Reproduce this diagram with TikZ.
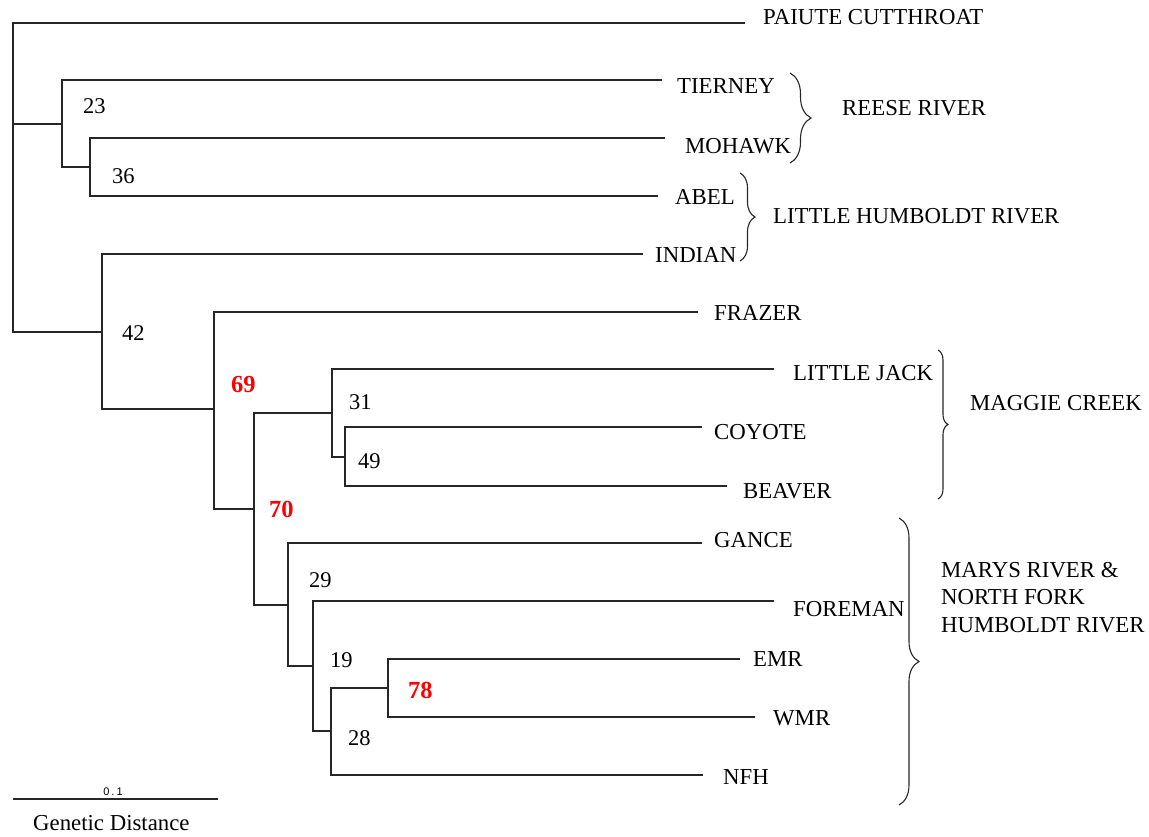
\documentclass[tikz,border=0pt]{standalone}
\usepackage{fontspec}
\setmainfont{Liberation Serif}
\newfontfamily\scalefont{Liberation Sans}
\usetikzlibrary{decorations.pathreplacing}
\begin{document}
\begin{tikzpicture}[x=1pt,y=-1pt,
  branch/.style={line width=1.5pt, draw=black!85},
  leaf/.style={anchor=base west, inner sep=0pt, font=\fontsize{22.8}{27.5}\selectfont},
  boot/.style={anchor=base west, inner sep=0pt, font=\fontsize{22.5}{27}\selectfont},
  hiboot/.style={anchor=base west, inner sep=0pt, text=red, font=\fontsize{24.5}{28}\selectfont\bfseries},
  grouplbl/.style={anchor=base west, inner sep=0pt, font=\fontsize{22.8}{27.5}\selectfont},
  grpbrace/.style={decorate, line width=1.1pt, draw=black!85}
]
\useasboundingbox (0,0) rectangle (1149,836);

% internal nodes
\coordinate (r)   at (13,124);
\coordinate (n23) at (62,124);
\coordinate (n36) at (90,167);
\coordinate (n42) at (102,332);
\coordinate (n69) at (214,409);
\coordinate (n70) at (254,509);
\coordinate (n31) at (332,413);
\coordinate (n49) at (345,457);
\coordinate (n29) at (288,605);
\coordinate (n19) at (313,666);
\coordinate (n28) at (331,731);
\coordinate (n78) at (388,688);

% leaf line ends
\coordinate (ePai) at (745,23);
\coordinate (eTie) at (662,80);
\coordinate (eMoh) at (665,138);
\coordinate (eAbe) at (658,196);
\coordinate (eInd) at (643,254);
\coordinate (eFra) at (698,312);
\coordinate (eLJ)  at (774,369);
\coordinate (eCoy) at (702,427);
\coordinate (eBea) at (727,486);
\coordinate (eGan) at (702,543);
\coordinate (eFor) at (774,601);
\coordinate (eEMR) at (740,659);
\coordinate (eWMR) at (755,717);
\coordinate (eNFH) at (703,775);

% branches
\draw[branch] (r) |- (ePai);
\draw[branch] (r) |- (n23);
\draw[branch] (r) |- (n42);
\draw[branch] (n23) |- (eTie);
\draw[branch] (n23) |- (n36);
\draw[branch] (n36) |- (eMoh);
\draw[branch] (n36) |- (eAbe);
\draw[branch] (n42) |- (eInd);
\draw[branch] (n42) |- (n69);
\draw[branch] (n69) |- (eFra);
\draw[branch] (n69) |- (n70);
\draw[branch] (n70) |- (n31);
\draw[branch] (n70) |- (n29);
\draw[branch] (n31) |- (eLJ);
\draw[branch] (n31) |- (n49);
\draw[branch] (n49) |- (eCoy);
\draw[branch] (n49) |- (eBea);
\draw[branch] (n29) |- (eGan);
\draw[branch] (n29) |- (n19);
\draw[branch] (n19) |- (eFor);
\draw[branch] (n19) |- (n28);
\draw[branch] (n28) |- (eNFH);
\draw[branch] (n28) |- (n78);
\draw[branch] (n78) |- (eEMR);
\draw[branch] (n78) |- (eWMR);

% leaf labels
\node[leaf] (lPai) at (763,24)  {PAIUTE CUTTHROAT};
\node[leaf] (lTie) at (677,93)  {TIERNEY};
\node[leaf] (lMoh) at (685,153) {MOHAWK};
\node[leaf] (lAbe) at (675,204) {ABEL};
\node[leaf] (lInd) at (655,262) {INDIAN};
\node[leaf] (lFra) at (714,320) {FRAZER};
\node[leaf] (lLJ)  at (793,380) {LITTLE JACK};
\node[leaf] (lCoy) at (714,439) {COYOTE};
\node[leaf] (lBea) at (743,498) {BEAVER};
\node[leaf] (lGan) at (714,547) {GANCE};
\node[leaf] (lFor) at (793,616) {FOREMAN};
\node[leaf] (lEMR) at (753,666) {EMR};
\node[leaf] (lWMR) at (773,725) {WMR};
\node[leaf] (lNFH) at (723,784) {NFH};

% bootstrap values
\node[boot] (b23) at (83,113)  {23};
\node[boot] (b36) at (112,183) {36};
\node[boot] (b42) at (122,340) {42};
\node[hiboot] (b69) at (231,392) {69};
\node[boot] (b31) at (349,409) {31};
\node[boot] (b49) at (358,468) {49};
\node[hiboot] (b70) at (269,517) {70};
\node[boot] (b29) at (309,587) {29};
\node[boot] (b19) at (330,667) {19};
\node[hiboot] (b78) at (408,698) {78};
\node[boot] (b28) at (348,745) {28};

% braces
\coordinate (brA1) at (790,73);  \coordinate (brA2) at (790,163);
\coordinate (brB1) at (740,173); \coordinate (brB2) at (740,261);
\coordinate (brC1) at (938,350); \coordinate (brC2) at (938,499);
\coordinate (brD1) at (899,518); \coordinate (brD2) at (899,805);
\draw[grpbrace, decoration={brace, amplitude=21pt}] (brA1) -- (brA2);
\draw[grpbrace, decoration={brace, amplitude=15pt}] (brB1) -- (brB2);
\draw[grpbrace, decoration={brace, amplitude=10pt}] (brC1) -- (brC2);
\draw[grpbrace, decoration={brace, amplitude=20pt}] (brD1) -- (brD2);

% group labels
\node[grouplbl] (gReese) at (842,115) {REESE RIVER};
\node[grouplbl] (gLH) at (773,223) {LITTLE HUMBOLDT RIVER};
\node[grouplbl] (gMag) at (970,410) {MAGGIE CREEK};
\node[anchor=north west, inner sep=0pt, align=left, font=\fontsize{22.8}{27.5}\selectfont] (gMar) at (941,562)
  {MARYS RIVER \&\\NORTH FORK\\HUMBOLDT RIVER};

% scale bar
\coordinate (sb1) at (13,799);
\coordinate (sb2) at (218,799);
\draw[line width=1.5pt, draw=black!85] (sb1) -- (sb2);
\node[inner sep=0pt, font=\scalefont\fontsize{11}{13}\selectfont] (sbl) at (113,792) {0\kern2pt.\kern2pt1};
\node[leaf] (gd) at (33,830) {Genetic Distance};
\end{tikzpicture}
\end{document}
